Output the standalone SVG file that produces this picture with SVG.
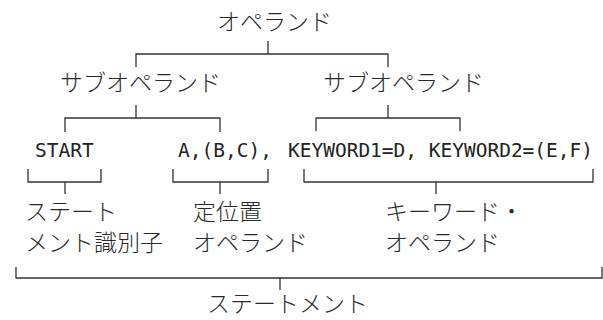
<svg xmlns="http://www.w3.org/2000/svg" width="603" height="320" viewBox="0 0 603 320">
<style>
.jp{font-family:"Noto Sans CJK JP","Noto Sans CJK SC",sans-serif;font-size:23px;fill:#2a2a2a;font-weight:300}
.code{font-family:"DejaVu Sans Mono","Liberation Mono",monospace;font-size:19.5px;fill:#222}
.ln{fill:none;stroke:#333;stroke-width:1.3}
</style>
<rect width="603" height="320" fill="#fff"/>
<g id="operand"><text class="jp" x="217" y="30">オペランド</text></g>
<g id="sub1"><text class="jp" x="60" y="91">サブオペランド</text></g>
<g id="sub2"><text class="jp" x="323" y="91">サブオペランド</text></g>
<g id="start"><text class="code" x="35" y="157">START</text></g>
<g id="pos"><text class="code" x="178" y="157">A,(B,C),</text></g>
<g id="kw"><text class="code" x="288" y="157" textLength="305" lengthAdjust="spacingAndGlyphs">KEYWORD1=D, KEYWORD2=(E,F)</text></g>
<g id="stmtid"><text class="jp" x="25" y="220">ステート</text><text class="jp" x="25" y="251">メント識別子</text></g>
<g id="posop"><text class="jp" x="193" y="220">定位置</text><text class="jp" x="193" y="251">オペランド</text></g>
<g id="kwop"><text class="jp" x="385" y="220">キーワード・</text><text class="jp" x="385" y="251">オペランド</text></g>
<g id="stmt"><text class="jp" x="207" y="312">ステートメント</text></g>
<g id="connectors">
<path class="ln" d="M268,41V54M136,67V54H388V67"/>
<path class="ln" d="M136,105V118M65,132V118H220V132"/>
<path class="ln" d="M388,105V118M316,131V118H460V131"/>
<path class="ln" d="M28,169V182H101V169M65,182V194"/>
<path class="ln" d="M173,169V182H268V169M220,182V194"/>
<path class="ln" d="M304,169V182H593V169M436,182V194"/>
<path class="ln" d="M16,267V278H602V267M280,278V290"/>
</g>
</svg>
